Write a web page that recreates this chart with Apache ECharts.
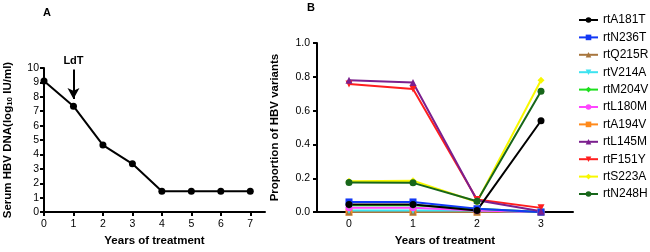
<!DOCTYPE html>
<html>
<head>
<meta charset="utf-8">
<script src="https://cdn.jsdelivr.net/npm/echarts@6/dist/echarts.min.js"></script>
<style>
html, body { margin: 0; padding: 0; background: #fff; }
#main { width: 650px; height: 252px; }
</style>
</head>
<body>
<div id="main"></div>
<script>
// panel A: viral load over time
var yearsA = [0, 1, 2, 3, 4, 5, 6, 7];
var dnaLog = [9.1, 7.35, 4.65, 3.35, 1.45, 1.45, 1.45, 1.45];

// panel B: variant proportions
var yearsB = ['0', '1', '2', '3'];
var variantNames = ['rtA181T', 'rtN236T', 'rtQ215R', 'rtV214A', 'rtM204V', 'rtL180M',
                    'rtA194V', 'rtL145M', 'rtF151Y', 'rtS223A', 'rtN248H'];
var rtA181T = [0.045, 0.045, 0.01, 0.54];
var rtN236T = [0.06, 0.06, 0.02, 0.0];
var rtQ215R = [0.0, 0.0, 0.0, 0.0];
var rtV214A = [0.01, 0.01, 0.01, 0.0];
var rtM204V = [0.04, 0.04, 0.02, 0.0];
var rtL180M = [0.025, 0.025, 0.01, 0.0];
var rtA194V = [0.0, 0.0, 0.0, 0.0];
var rtL145M = [0.78, 0.767, 0.07, 0.005];
var rtF151Y = [0.757, 0.728, 0.075, 0.025];
var rtS223A = [0.183, 0.185, 0.06, 0.78];
var rtN248H = [0.175, 0.173, 0.064, 0.715];
var variantValues = [rtA181T, rtN236T, rtQ215R, rtV214A, rtM204V, rtL180M,
                     rtA194V, rtL145M, rtF151Y, rtS223A, rtN248H];

var variantColors = ['#000000', '#1238f5', '#a8763e', '#3de3f0', '#1ee01e', '#ff45ff',
                     '#ff8a1c', '#7b1f8e', '#ff1e1e', '#f8f800', '#17661a'];
var variantSymbols = ['circle', 'rect', 'triangle', 'triangle', 'diamond', 'circle',
                      'rect', 'triangle', 'triangle', 'diamond', 'circle'];
var variantRotate = [0, 0, 0, 180, 0, 0, 0, 0, 180, 0, 0];
// drawing order so the crowded lines overlap like the original
var drawOrder = [6, 2, 3, 5, 4, 1, 8, 7, 9, 10, 0];

var font = "'Liberation Sans', Arial, sans-serif";
var myChart = echarts.init(document.getElementById('main'));

var axisLineStyle = { color: '#000', width: 2 };
var seriesB = drawOrder.map(function (i) {
    return {
        name: variantNames[i],
        type: 'line',
        xAxisIndex: 1,
        yAxisIndex: 1,
        data: variantValues[i],
        symbol: variantSymbols[i],
        symbolRotate: variantRotate[i],
        symbolSize: 7,
        color: variantColors[i],
        lineStyle: { width: 2, color: variantColors[i] },
        itemStyle: { color: variantColors[i] },
        z: 3
    };
});

option = {
    animation: false,
    textStyle: { fontFamily: font },
    title: [
        { text: 'A', left: 38, top: 2, textStyle: { fontSize: 11, fontWeight: 'bold', color: '#000' } },
        { text: 'B', left: 302, top: -3, textStyle: { fontSize: 11, fontWeight: 'bold', color: '#000' } }
    ],
    legend: {
        orient: 'vertical',
        left: 578,
        top: 14,
        padding: 0,
        itemWidth: 19,
        itemHeight: 7,
        itemGap: 5.4,
        data: variantNames,
        textStyle: { fontSize: 12, color: '#000', fontFamily: font, overflow: 'none' }
    },
    grid: [
        { left: 44, top: 68, width: 221, height: 148 },
        { left: 317, top: 43, width: 256, height: 173 }
    ],
    xAxis: [
        {
            type: 'value', gridIndex: 0, min: 0, max: 7.5,
            name: 'Years of treatment', nameLocation: 'middle', nameGap: 16,
            nameTextStyle: { fontSize: 11.5, fontWeight: 'bold', color: '#000' },
            axisLine: { lineStyle: axisLineStyle },
            axisTick: { length: 4, lineStyle: axisLineStyle, customValues: yearsA },
            axisLabel: { color: '#000', fontSize: 10.5, margin: 7, customValues: yearsA },
            splitLine: { show: false }
        },
        {
            type: 'category', gridIndex: 1, data: yearsB, boundaryGap: true,
            name: 'Years of treatment', nameLocation: 'middle', nameGap: 16,
            nameTextStyle: { fontSize: 11.5, fontWeight: 'bold', color: '#000' },
            axisLine: { lineStyle: axisLineStyle },
            axisTick: { length: 4, alignWithLabel: true, lineStyle: axisLineStyle },
            axisLabel: { color: '#000', fontSize: 10.5, margin: 7 },
            splitLine: { show: false }
        }
    ],
    yAxis: [
        {
            type: 'value', gridIndex: 0, min: 0, max: 10, interval: 1,
            name: 'Serum HBV DNA(log{s|10} IU/ml)', nameLocation: 'middle', nameGap: 30, nameRotate: 90,
            nameTextStyle: {
                fontSize: 11.5, fontWeight: 'bold', color: '#000',
                rich: { s: { fontSize: 8, fontWeight: 'bold', verticalAlign: 'bottom', lineHeight: 8 } }
            },
            axisLine: { show: true, lineStyle: axisLineStyle },
            axisTick: { show: true, length: 4, lineStyle: axisLineStyle },
            axisLabel: { color: '#000', fontSize: 10.5, margin: 5 },
            splitLine: { show: false }
        },
        {
            type: 'value', gridIndex: 1, min: 0, max: 1, interval: 0.2,
            name: 'Proportion of HBV variants', nameLocation: 'middle', nameGap: 36, nameRotate: 90,
            nameTextStyle: { fontSize: 11.5, fontWeight: 'bold', color: '#000' },
            axisLine: { show: true, lineStyle: axisLineStyle },
            axisTick: { show: true, length: 4, lineStyle: axisLineStyle },
            axisLabel: {
                color: '#000', fontSize: 10.5, margin: 7,
                formatter: function (v) { return v.toFixed(1); }
            },
            splitLine: { show: false }
        }
    ],
    series: [
        {
            name: 'HBV DNA',
            type: 'line',
            xAxisIndex: 0,
            yAxisIndex: 0,
            data: yearsA.map(function (y, i) { return [y, dnaLog[i]]; }),
            symbol: 'circle',
            symbolSize: 7,
            color: '#000',
            lineStyle: { width: 2, color: '#000' },
            itemStyle: { color: '#000' },
            markLine: {
                silent: true,
                symbol: ['none', 'arrow'],
                symbolSize: [9, 11],
                lineStyle: { color: '#000', width: 2, type: 'solid' },
                label: {
                    show: true, position: 'start', formatter: 'LdT', distance: 3,
                    color: '#000', fontSize: 11, fontWeight: 'bold', fontFamily: font
                },
                data: [[{ coord: [1, 9.9] }, { coord: [1, 7.85] }]]
            }
        }
    ].concat(seriesB)
};
myChart.setOption(option);
</script>
</body>
</html>
